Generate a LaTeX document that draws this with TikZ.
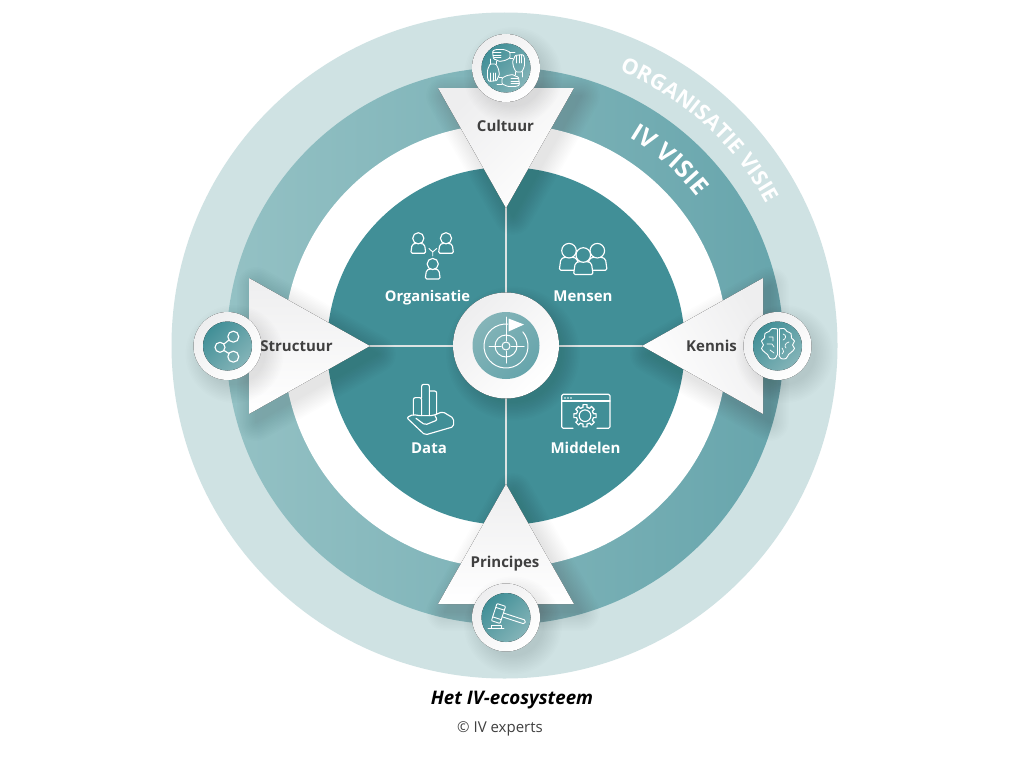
\documentclass[tikz,border=0pt]{standalone}
\usepackage{fontspec}
\setmainfont{Open Sans}
\usetikzlibrary{decorations.text,shadings,calc}
\definecolor{teal1}{HTML}{418F97}
\definecolor{outerring}{HTML}{CFE2E3}
\definecolor{ivleft}{HTML}{94C1C4}
\definecolor{ivright}{HTML}{67A5AC}
\definecolor{crossline}{HTML}{DCE3E3}
\definecolor{labdark}{HTML}{404040}
\definecolor{badgelight}{HTML}{84B4B8}
\definecolor{tri}{HTML}{EEEEEF}
\newcommand\softshadow[1]{\foreach \w in {38,35,...,2}{\begin{scope}[transparency group,opacity=.009,shift={(7,8)}]\filldraw[black,line width=\w pt,line join=round] #1;\end{scope}}}
\newcommand\badge[3]{% x y name
  \softshadow{(#1,#2) circle[radius=30]}
  \fill[ringshade] (#1,#2) circle[radius=34];
  \fill[discshade] (#1,#2) circle[radius=24.5];
}
\newcommand\personicon[3]{% head x, head y, scale
  \begin{scope}[shift={(#1,#2)},scale=#3]
    \filldraw[icon,fill=teal1,rounded corners=1.5pt] (-3.5,5) -- (-6.3,6.5) -- (-7.5,15) -- (7.5,15) -- (6.3,6.5) -- (3.5,5) -- cycle;
    \filldraw[icon,fill=teal1] (0,0) circle[radius=5.6];
  \end{scope}}
\newcommand\handicon{%
  \draw[icon,line width=.85pt,rounded corners=1pt] (10,4) -- (7.5,-1) -- (6.5,-7) -- (8,-9) -- (9,-12.5) -- (17,-13.5) -- (18.5,-10) -- (18.5,-2) -- (16,4) -- cycle;
  \draw[icon,line width=.7pt] (10.5,-12) -- (10.5,-5) (13,-13) -- (13,-5) (15.5,-13) -- (15.5,-5) (9.5,4) -- (9.5,7) (16,4) -- (16,9);
}
\tikzset{
  x=1pt,y=-1pt,
  icon/.style={draw=white,line width=1.15pt,line join=round,line cap=round},
  ringshade/.style={shade,top color=tri,bottom color=white,shading angle=45},
  discshade/.style={shade,top color=teal1,middle color=teal1,bottom color=badgelight,shading angle=45},
  tribody/.style={shade,top color=tri,bottom color=white},
  lab/.style={text=labdark,font=\bfseries\fontsize{15}{18}\selectfont,inner sep=0pt},
  wlab/.style={text=white,font=\bfseries\fontsize{15}{18}\selectfont,inner sep=0pt},
}
\newcommand\orgfont{\color{white}\bfseries\fontsize{21.5}{26}\selectfont}
\newcommand\ivfont{\color{white}\bfseries\fontsize{24.5}{29}\selectfont}
\begin{document}
\begin{tikzpicture}
\useasboundingbox (0,0) rectangle (1024,768);
\fill[white] (0,0) rectangle (1024,768);
% rings
\fill[outerring] (504.5,345.5) circle[radius=333];
\shade[left color=ivleft,right color=ivright] (505,346) circle[radius=278.5];
\fill[white] (505.5,346) circle[radius=222];
\fill[teal1] (506,346) circle[radius=178.8];
% curved text
\path[decorate,decoration={text along path,text align=center,text={|\orgfont|ORGANISATIE VISIE}}]
  (505,346) ++(-82.5:298) arc[start angle=-82.5,end angle=-13.5,radius=298];
\path[decorate,decoration={text along path,text align=center,text={|\ivfont|IV VISIE}}]
  (505,346) ++(-82:243) arc[start angle=-82,end angle=-15,radius=243];
% cross lines
\coordinate (ctop) at (506,170);
\coordinate (cbot) at (506,522);
\coordinate (cleft) at (328,346);
\coordinate (cright) at (684,346);
\draw[crossline,line width=2.6pt] (ctop) -- (cbot);
\draw[crossline,line width=2.6pt] (cleft) -- (cright);
% centre
\softshadow{(506,345.5) circle[radius=48]}
\fill[ringshade] (506,345.5) circle[radius=53];
\shade[top color=badgelight,bottom color=ivright,shading angle=45] (506,345.5) circle[radius=33.5];
% target icon
\draw[icon,line width=1pt] (506,346) ++(-40:22) arc[start angle=-40,end angle=275,radius=22];
\draw[icon,line width=1pt] (506,346) circle[radius=11];
\draw[icon,line width=1pt] (506,346) circle[radius=4];
\draw[icon,line width=1pt] (489,346) -- (501,346) (511,346) -- (524,346) (506,317) -- (506,341) (506,351) -- (506,363);
\fill[white] (508.5,318.5) -- (524,324.5) -- (508.5,331.5) -- cycle;
% triangles
\softshadow{(438,88) -- (574,88) -- (506,208) -- cycle}
\fill[tribody,shading angle=45] (438,88) -- (574,88) -- (506,208) -- cycle;
\softshadow{(249,278) -- (249,414) -- (370,346) -- cycle}
\fill[tribody] (249,278) -- (249,414) -- (370,346) -- cycle;
\softshadow{(763,278) -- (763,414) -- (642,346) -- cycle}
\fill[tribody,shading angle=-60] (763,278) -- (763,414) -- (642,346) -- cycle;
\softshadow{(438,604) -- (574,604) -- (506,484) -- cycle}
\fill[tribody] (438,604) -- (574,604) -- (506,484) -- cycle;
% badges
\badge{506}{68}{a}
\badge{227.5}{346}{b}
\badge{777.5}{346}{c}
\badge{506}{617.5}{d}
% hands
\foreach \r in {0,90,180,270}{
\begin{scope}[shift={(506,68)},rotate=\r]\handicon\end{scope}}
% share
\draw[icon] (233.3,336.7) circle[radius=5.5] (220,347.3) circle[radius=5] (233.3,356.7) circle[radius=5.5];
\draw[icon] (224,344) -- (229,340) (224,350.5) -- (229,353.5);
% brain
\begin{scope}[shift={(778,344)}]
\draw[icon,line width=.9pt] plot[smooth,tension=.7] coordinates {(-1,-15) (-6,-15.5) (-9,-12.5) (-13,-10.5) (-13.5,-6) (-16.5,-3) (-14.5,1) (-16.5,4.5) (-13,8.5) (-10.5,10.5) (-8,14.5) (-3,14.5) (-1,11)};
\draw[icon,line width=.9pt] (-1,-15) -- (-1,11);
\draw[icon,line width=.9pt] plot[smooth,tension=.7] coordinates {(1,-15) (6,-15.5) (9,-12.5) (13,-10.5) (13.5,-6) (16.5,-3) (14.5,1) (16.5,4.5) (13,8.5) (10.5,10.5) (8,14.5) (3,14.5) (1,11)};
\draw[icon,line width=.9pt] (1,-15) -- (1,11);
\draw[icon,line width=.7pt] (-9,-7) -- (-5,-7) -- (-5,-3) (-11,0) -- (-6,0) -- (-4,3) (-8,6) -- (-4,9);
\draw[icon,line width=.7pt] (5,-10) .. controls (9,-9) and (8,-5) .. (5,-4) (11,-2) .. controls (7,-1) and (6,2) .. (8,4) (4,4) .. controls (6,7) and (6,9) .. (4,10);
\end{scope}
% gavel
\begin{scope}[shift={(498.5,613.5)},rotate=-18]
\draw[icon,line width=.9pt,rounded corners=.8pt] (-4.5,-9) rectangle (4.5,9);
\draw[icon,line width=.9pt] (-4.5,-5) -- (4.5,-5) (-4.5,5) -- (4.5,5);
\draw[icon,line width=.9pt,rounded corners=1.5pt] (4.5,-2) -- (28,-2) -- (28,2) -- (4.5,2);
\end{scope}
\draw[icon,line width=.9pt] (488,628) -- (504,628) (491,628) -- (491,625.5) -- (501,625.5) -- (501,628) ;
% Organisatie icon
\personicon{418.3}{238.3}{1}
\personicon{446}{238.3}{1}
\personicon{432.7}{264}{1}
\draw[icon,line width=.9pt] (429,248.5) -- (432.7,252) -- (436.7,248.5) (432.7,252) -- (432.7,256);
% Mensen icon
\personicon{569}{250.7}{1.3}
\personicon{597.3}{250.7}{1.3}
\personicon{583.3}{255}{1.3}
% Data icon
\begin{scope}[shift={(380,375)},x=.3333pt,y=-.3333pt]
\draw[icon,rounded corners=2pt] (100,120) -- (100,68) -- (125,68) -- (125,122);
\draw[icon,rounded corners=2pt] (125,68) -- (125,28) -- (148,28) -- (148,122);
\draw[icon,rounded corners=2pt] (148,48) -- (170,48) -- (170,118);
\draw[icon,rounded corners=2pt] (80,128) -- (135,180) -- (221,155) -- (221,130) -- (188,110) -- (158,122) -- (115,122) -- (100,118) -- cycle;
\draw[icon,rounded corners=2pt] (108,130) -- (135,150) -- (172,135) -- (165,122);
\end{scope}
% Middelen icon
\draw[icon,rounded corners=1.5pt] (573,428.3) -- (561.7,428.3) -- (561.7,394.3) -- (610,394.3) -- (610,428.3) -- (597,428.3);
\draw[icon] (561.7,401) -- (610,401);
\fill[white] (565,398) circle[radius=.8] (568,398) circle[radius=.8] (571,398) circle[radius=.8];
\begin{scope}[shift={(585,415.7)}]
\draw[icon] (0,0) circle[radius=5.8];
\foreach \a in {0,45,...,315}{
\draw[icon] (\a-22.5:8.6) -- (\a-13:8.6) -- (\a-10:11.3) -- (\a+10:11.3) -- (\a+13:8.6) -- (\a+22.5:8.6);}
\end{scope}
% labels
\node[lab] (cultuur) at (505.5,126) {Cultuur};
\node[lab] (structuur) at (296.5,346) {Structuur};
\node[lab] (kennis) at (711.5,346) {Kennis};
\node[lab] (principes) at (505,564) {Principes};
\node[wlab,font=\bfseries\fontsize{14.7}{18}\selectfont] (organisatie) at (427.5,297.5) {Organisatie};
\node[wlab] (mensen) at (583,296.5) {Mensen};
\node[wlab] (data) at (429,448) {Data};
\node[wlab] (middelen) at (585.5,447.5) {Middelen};
\node[inner sep=0pt,text=black,font=\bfseries\itshape\fontsize{18.7}{22}\selectfont] (caption) at (512,700) {Het IV-ecosysteem};
\node[inner sep=0pt,text=labdark,font=\fontsize{15}{18}\selectfont] (credit) at (500,728.5) {© IV experts};
\end{tikzpicture}
\end{document}
